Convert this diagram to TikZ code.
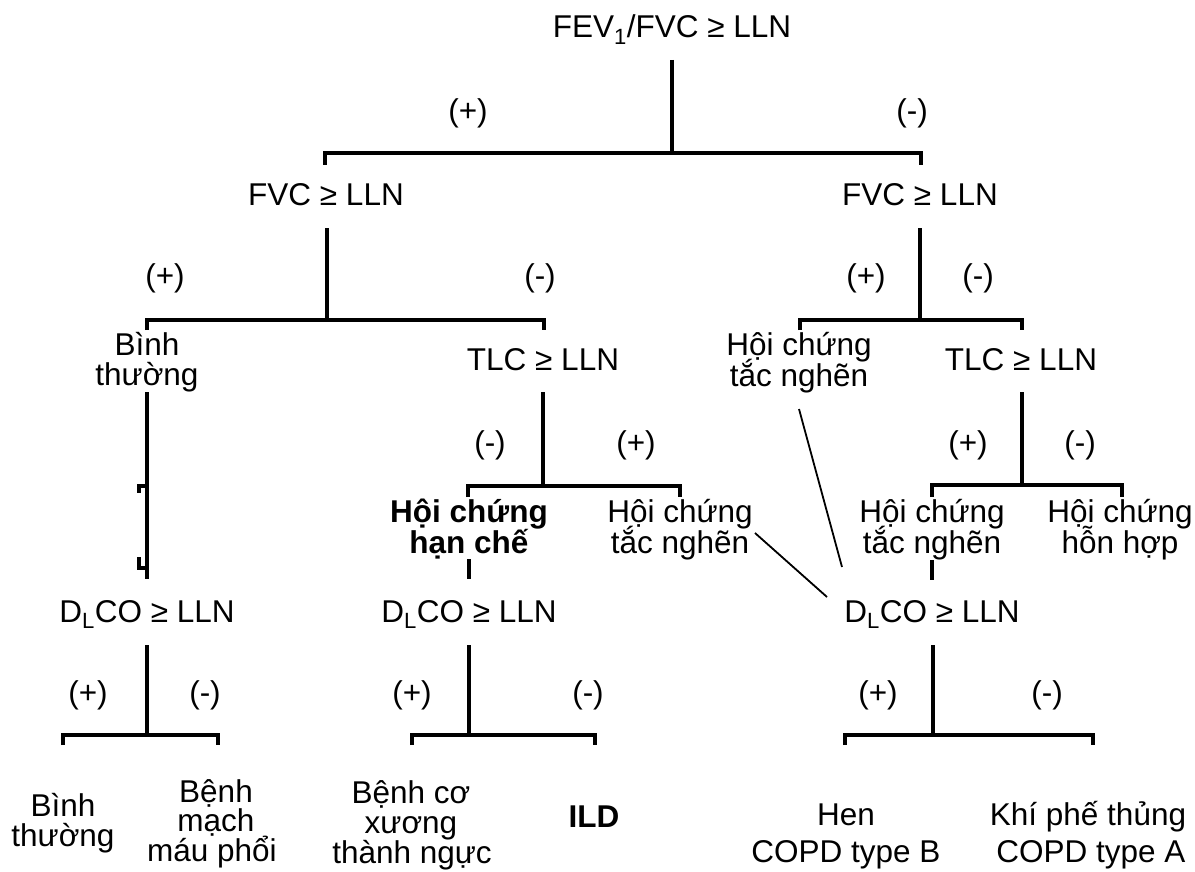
\documentclass[tikz,border=0pt]{standalone}
\usepackage{fontspec}
\setmainfont{Liberation Sans}
\begin{document}
\begin{tikzpicture}[x=1pt,y=-1pt,
  txt/.style={font=\fontsize{31.5}{33}\selectfont, inner sep=0pt, anchor=base},
  btxt/.style={font=\fontsize{31.5}{33}\selectfont\bfseries, inner sep=0pt, anchor=base},
  sgn/.style={font=\fontsize{31.5}{33}\selectfont, inner sep=0pt},
  ln/.style={line width=3.2pt, line join=miter},
  thinln/.style={line width=1.8pt}]
\useasboundingbox (0,0) rectangle (1195,872);
\fill[white] (0,0) rectangle (1195,872);

% ---- texts ----
\node[txt] (root) at (672,38) {FEV\textsubscript{1}/FVC ≥ LLN};
\node[sgn] (s1p) at (468,113) {(+)};
\node[sgn] (s1m) at (912,113) {(-)};
\node[txt] (fvcL) at (326,205) {FVC ≥ LLN};
\node[txt] (fvcR) at (920,205) {FVC ≥ LLN};
\node[sgn] (s2p) at (165,278) {(+)};
\node[sgn] (s2m) at (540,278) {(-)};
\node[sgn] (s3p) at (866,278) {(+)};
\node[sgn] (s3m) at (978,278) {(-)};
\node[txt] (bt1a) at (147,355) {Bình};
\node[txt] (bt1b) at (147,385) {thường};
\node[txt] (tlcL) at (543,370) {TLC ≥ LLN};
\node[txt] (tn1a) at (799,355) {Hội chứng};
\node[txt] (tn1b) at (799,386) {tắc nghẽn};
\node[txt] (tlcR) at (1021,370) {TLC ≥ LLN};
\node[sgn] (s4m) at (490,445) {(-)};
\node[sgn] (s4p) at (636,445) {(+)};
\node[sgn] (s5p) at (968,445) {(+)};
\node[sgn] (s5m) at (1080,445) {(-)};
\node[btxt] (hc1) at (469,522) {Hội chứng};
\node[btxt] (hc2) at (469,553) {hạn chế};
\node[txt] (tn2a) at (680,522) {Hội chứng};
\node[txt] (tn2b) at (680,553) {tắc nghẽn};
\node[txt] (tn3a) at (932,522) {Hội chứng};
\node[txt] (tn3b) at (932,553) {tắc nghẽn};
\node[txt] (hh1) at (1120,522) {Hội chứng};
\node[txt] (hh2) at (1120,553) {hỗn hợp};
\node[txt] (dlL) at (147,622) {D\textsubscript{L}CO ≥ LLN};
\node[txt] (dlM) at (469,622) {D\textsubscript{L}CO ≥ LLN};
\node[txt] (dlR) at (932,622) {D\textsubscript{L}CO ≥ LLN};
\node[sgn] (s6p) at (88,695) {(+)};
\node[sgn] (s6m) at (205,695) {(-)};
\node[sgn] (s7p) at (412,695) {(+)};
\node[sgn] (s7m) at (588,695) {(-)};
\node[sgn] (s8p) at (878,695) {(+)};
\node[sgn] (s8m) at (1047,695) {(-)};
\node[txt] (bt2a) at (63,816) {Bình};
\node[txt] (bt2b) at (63,846) {thường};
\node[txt] (bm1) at (216,802) {Bệnh};
\node[txt] (bm2) at (216,831) {mạch};
\node[txt] (bm3) at (212,861) {máu phổi};
\node[txt] (bc1) at (411,803) {Bệnh cơ};
\node[txt] (bc2) at (411,833) {xương};
\node[txt] (bc3) at (412,863) {thành ngực};
\node[btxt] (ild) at (594,827) {ILD};
\node[txt] (hen1) at (846,825) {Hen};
\node[txt] (hen2) at (846,862) {COPD type B};
\node[txt] (kpt1) at (1088,825) {Khí phế thủng};
\node[txt] (kpt2) at (1091,862) {COPD type A};

% ---- connectors ----
\draw[ln] (672,60) -- (672,153);
\draw[ln] (325,165) -- (325,153) -- (921,153) -- (921,165);
\draw[ln] (327,228) -- (327,320);
\draw[ln] (147,330) -- (147,320) -- (544,320) -- (544,330);
\draw[ln] (920,228) -- (920,320);
\draw[ln] (800,330) -- (800,320) -- (1022,320) -- (1022,330);
\draw[ln] (543,392) -- (543,486);
\draw[ln] (468,497) -- (468,486) -- (680,486) -- (680,497);
\draw[ln] (1022,392) -- (1022,485);
\draw[ln] (932,497) -- (932,485) -- (1122,485) -- (1122,497);
% broken line under "Binh thuong"
\draw[ln] (147,392) -- (147,486) -- (139,486) -- (139,493);
\draw[ln] (147,488) -- (147,568);
\draw[ln] (139,557) -- (139,568) -- (147,568) -- (147,579);
\draw[ln] (469,559) -- (469,579);
\draw[ln] (932,560) -- (932,580);
\draw[thinln] (755,533) -- (827,597);
\draw[thinln] (799,409) -- (842,567);
\draw[ln] (147,645) -- (147,735);
\draw[ln] (63,745) -- (63,735) -- (218,735) -- (218,745);
\draw[ln] (469,645) -- (469,735);
\draw[ln] (412,745) -- (412,735) -- (595,735) -- (595,745);
\draw[ln] (933,645) -- (933,735);
\draw[ln] (845,745) -- (845,735) -- (1093,735) -- (1093,745);
\end{tikzpicture}
\end{document}
